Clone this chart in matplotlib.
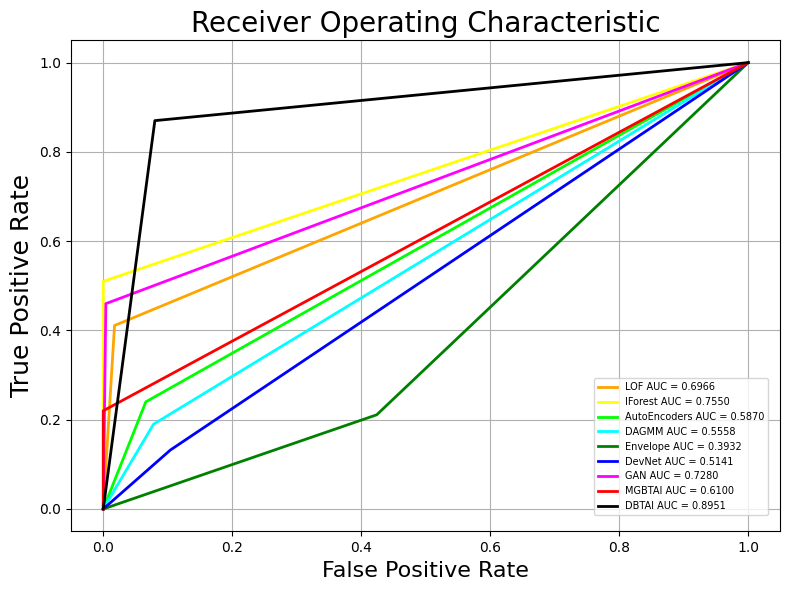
import matplotlib
matplotlib.use("Agg")
import matplotlib.pyplot as plt

models = ["LOF", "IForest", "AutoEncoders", "DAGMM", "Envelope", "DevNet", "GAN", "MGBTAI", "DBTAI"]
aucs = [0.6966, 0.7550, 0.5870, 0.5558, 0.3932, 0.5141, 0.7280, 0.6100, 0.8951]
fpr_mid = [0.0175, 0.0, 0.066, 0.078, 0.424, 0.104, 0.004, 0.0, 0.080]
tpr_mid = [0.411, 0.510, 0.240, 0.190, 0.211, 0.132, 0.460, 0.220, 0.870]
colors = ["orange", "yellow", "lime", "cyan", "green", "blue", "magenta", "red", "black"]

fig, ax = plt.subplots(figsize=(7.89, 5.9), dpi=100)
for m, a, f, t, c in zip(models, aucs, fpr_mid, tpr_mid, colors):
    ax.plot([0, f, 1], [0, t, 1], color=c, lw=2, label=f"{m} AUC = {a:.4f}")
ax.set_title("Receiver Operating Characteristic", fontsize=20)
ax.set_xlabel("False Positive Rate", fontsize=16)
ax.set_ylabel("True Positive Rate", fontsize=18)
ax.grid(True)
ax.legend(loc="lower right", fontsize=7, bbox_to_anchor=(0.9825, 0.0332),
          borderaxespad=0)
fig.subplots_adjust(left=0.090, right=0.9892, top=0.9317, bottom=0.0995)
fig.savefig("out.png", dpi=100)
